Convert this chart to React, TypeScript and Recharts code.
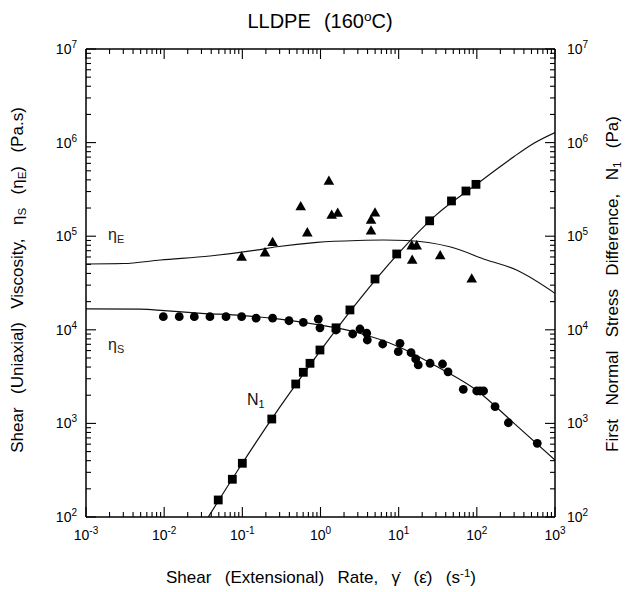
import React from 'react';
import { ComposedChart, XAxis, YAxis, Line, Scatter } from 'recharts';

const W = 637;
const H = 592;
const FONT = '"Liberation Sans", Arial, Helvetica, sans-serif';

// axis ranges and tick labels
const X_DOMAIN = [0.001, 1000];
const Y_DOMAIN = [100, 10000000];
const xMajorTicks = [0.001, 0.01, 0.1, 1, 10, 100, 1000];
const yMajorTicks = [100, 1000, 10000, 100000, 1000000, 10000000];
const minorMultipliers = [2, 3, 4, 5, 6, 7, 8, 9];

// eta_S (shear viscosity) measured points
const etaSPoints = [
  { x: 0.00975, y: 13800 }, { x: 0.0156, y: 13800 }, { x: 0.0243, y: 13800 },
  { x: 0.0385, y: 13800 }, { x: 0.0618, y: 13800 }, { x: 0.098, y: 13800 },
  { x: 0.15, y: 13300 }, { x: 0.244, y: 13300 }, { x: 0.395, y: 12500 },
  { x: 0.603, y: 12000 }, { x: 0.937, y: 13000 }, { x: 0.984, y: 10500 },
  { x: 1.58, y: 9950 }, { x: 2.58, y: 9020 }, { x: 3.2, y: 10200 },
  { x: 3.9, y: 9190 }, { x: 3.97, y: 7780 }, { x: 6.25, y: 7050 },
  { x: 10.4, y: 7170 }, { x: 9.89, y: 5840 }, { x: 14.4, y: 5690 },
  { x: 16.5, y: 4880 }, { x: 17.8, y: 4210 }, { x: 25.2, y: 4390 },
  { x: 36.4, y: 4310 }, { x: 42.8, y: 3560 }, { x: 67.1, y: 2310 },
  { x: 99.6, y: 2220 }, { x: 110, y: 2220 }, { x: 122, y: 2220 },
  { x: 171, y: 1510 }, { x: 253, y: 1016 }, { x: 593, y: 612 },
];

// eta_E (extensional viscosity) measured points
const etaEPoints = [
  { x: 0.098, y: 60000 }, { x: 0.195, y: 66600 }, { x: 0.244, y: 86000 },
  { x: 0.558, y: 207000 }, { x: 0.678, y: 109000 }, { x: 1.28, y: 389000 },
  { x: 1.39, y: 168000 }, { x: 1.66, y: 177000 }, { x: 4.43, y: 114000 },
  { x: 4.43, y: 149000 }, { x: 4.98, y: 178000 }, { x: 14.7, y: 79200 },
  { x: 17.0, y: 79200 }, { x: 14.9, y: 55700 }, { x: 34, y: 62000 },
  { x: 86, y: 35000 },
];

// N1 (first normal stress difference) measured points
const n1Points = [
  { x: 0.0492, y: 152 }, { x: 0.0745, y: 253 }, { x: 0.1, y: 375 },
  { x: 0.238, y: 1114 }, { x: 0.482, y: 2636 }, { x: 0.603, y: 3516 },
  { x: 0.734, y: 4385 }, { x: 0.984, y: 6085 }, { x: 1.58, y: 10500 },
  { x: 2.38, y: 16300 }, { x: 4.98, y: 34900 }, { x: 9.44, y: 64600 },
  { x: 24.9, y: 146000 }, { x: 47.4, y: 238000 }, { x: 72.6, y: 304000 },
  { x: 97.5, y: 358000 },
];

// model curves
const etaSLine = [
  { x: 0.001, y: 16700 }, { x: 0.005, y: 16600 }, { x: 0.01, y: 16000 },
  { x: 0.03, y: 15000 }, { x: 0.1, y: 14200 }, { x: 0.3, y: 13000 },
  { x: 1, y: 11200 }, { x: 3, y: 9300 }, { x: 10, y: 6600 },
  { x: 30, y: 4100 }, { x: 100, y: 2250 }, { x: 300, y: 1000 },
  { x: 1000, y: 406 },
];

const etaELine = [
  { x: 0.001, y: 50500 }, { x: 0.003, y: 51000 }, { x: 0.009, y: 55700 },
  { x: 0.0385, y: 61400 }, { x: 0.15, y: 71000 }, { x: 0.275, y: 77000 },
  { x: 0.9, y: 86000 }, { x: 3, y: 90000 }, { x: 6.4, y: 91000 },
  { x: 12.7, y: 90000 }, { x: 45, y: 77000 }, { x: 134, y: 55700 },
  { x: 323, y: 43500 }, { x: 1000, y: 24500 },
];

const n1Line = [
  { x: 0.0367, y: 100 }, { x: 0.1, y: 375 }, { x: 0.3, y: 1480 },
  { x: 1, y: 6000 }, { x: 3, y: 20000 }, { x: 10, y: 66000 },
  { x: 30, y: 168000 }, { x: 100, y: 360000 }, { x: 200, y: 555000 },
  { x: 300, y: 710000 }, { x: 500, y: 950000 }, { x: 1000, y: 1280000 },
];

const buildTicks = (majors: number[]) => {
  const out: number[] = [];
  majors.forEach((m, i) => {
    out.push(m);
    if (i < majors.length - 1) minorMultipliers.forEach((k) => out.push(m * k));
  });
  return out;
};
const xTicks = buildTicks(xMajorTicks);
const yTicks = buildTicks(yMajorTicks);

const isMajor = (v: number) => Math.abs(Math.log10(v) - Math.round(Math.log10(v))) < 1e-6;
const expOf = (v: number) => String(Math.round(Math.log10(v)));

const MAJOR = 10;
const MINOR = 5;
const TICK_STROKE = 1.1;

const Pow = ({ x, y, v, anchor }: any) => (
  <text x={x} y={y} textAnchor={anchor} fontFamily={FONT} fontSize={14} fill="#000">
    10
    <tspan dy={-6} fontSize={10}>{expOf(v)}</tspan>
  </text>
);

const BottomTick = (p: any) => {
  const v = p.payload.value;
  const mj = isMajor(v);
  return (
    <g>
      <line x1={p.x} x2={p.x} y1={p.y} y2={p.y - (mj ? MAJOR : MINOR)} stroke="#000" strokeWidth={TICK_STROKE} />
      {mj && <Pow x={p.x} y={p.y + 23} v={v} anchor="middle" />}
    </g>
  );
};
const TopTick = (p: any) => {
  const v = p.payload.value;
  const mj = isMajor(v);
  return <line x1={p.x} x2={p.x} y1={p.y} y2={p.y + (mj ? MAJOR : MINOR)} stroke="#000" strokeWidth={TICK_STROKE} />;
};
const LeftTick = (p: any) => {
  const v = p.payload.value;
  const mj = isMajor(v);
  return (
    <g>
      <line x1={p.x} x2={p.x + (mj ? MAJOR : MINOR)} y1={p.y} y2={p.y} stroke="#000" strokeWidth={TICK_STROKE} />
      {mj && <Pow x={p.x - 9} y={p.y + 5} v={v} anchor="end" />}
    </g>
  );
};
const RightTick = (p: any) => {
  const v = p.payload.value;
  const mj = isMajor(v);
  return (
    <g>
      <line x1={p.x} x2={p.x - (mj ? MAJOR : MINOR)} y1={p.y} y2={p.y} stroke="#000" strokeWidth={TICK_STROKE} />
      {mj && <Pow x={p.x + 12} y={p.y + 5} v={v} anchor="start" />}
    </g>
  );
};

const CircleShape = (p: any) => <circle cx={p.cx} cy={p.cy} r={4.4} fill="#000" />;
const SquareShape = (p: any) => <rect x={p.cx - 4.4} y={p.cy - 4.4} width={8.8} height={8.8} fill="#000" />;
const TriangleShape = (p: any) => (
  <path d={`M${p.cx},${p.cy - 5.6}L${p.cx + 5.3},${p.cy + 3.7}L${p.cx - 5.3},${p.cy + 3.7}Z`} fill="#000" />
);

const axisLine = { stroke: '#000', strokeWidth: 1.5 };

const abs = (o: any): React.CSSProperties => ({
  position: 'absolute',
  whiteSpace: 'pre',
  fontFamily: FONT,
  color: '#000',
  lineHeight: 1,
  ...o,
});
const subStyle: React.CSSProperties = { fontSize: '0.68em', verticalAlign: '-0.25em' };
const supStyle: React.CSSProperties = { fontSize: '0.68em', verticalAlign: '0.5em' };

export default function App() {
  return (
    <div style={{ position: 'absolute', left: 0, top: 0, width: W, height: H, background: '#fff' }}>
      <ComposedChart width={W} height={H} margin={{ top: 0, right: 0, bottom: 0, left: 0 }}>
        <XAxis xAxisId="b" dataKey="x" type="number" scale="log" domain={X_DOMAIN} allowDataOverflow
          ticks={xTicks} interval={0} tickSize={0} tickMargin={0} height={75} orientation="bottom"
          axisLine={axisLine} tickLine={false} tick={(p: any) => <BottomTick {...p} />} />
        <XAxis xAxisId="t" dataKey="x" type="number" scale="log" domain={X_DOMAIN} allowDataOverflow
          ticks={xTicks} interval={0} tickSize={0} tickMargin={0} height={49} orientation="top"
          axisLine={axisLine} tickLine={false} tick={(p: any) => <TopTick {...p} />} />
        <YAxis yAxisId="l" dataKey="y" type="number" scale="log" domain={Y_DOMAIN} allowDataOverflow
          ticks={yTicks} interval={0} tickSize={0} tickMargin={0} width={86} orientation="left"
          axisLine={axisLine} tickLine={false} tick={(p: any) => <LeftTick {...p} />} />
        <YAxis yAxisId="r" dataKey="y" type="number" scale="log" domain={Y_DOMAIN} allowDataOverflow
          ticks={yTicks} interval={0} tickSize={0} tickMargin={0} width={82} orientation="right"
          axisLine={axisLine} tickLine={false} tick={(p: any) => <RightTick {...p} />} />

        <Line xAxisId="b" yAxisId="l" data={etaELine} dataKey="y" type="monotone" stroke="#111"
          strokeWidth={1.1} dot={false} activeDot={false} isAnimationActive={false} />
        <Line xAxisId="b" yAxisId="l" data={etaSLine} dataKey="y" type="monotone" stroke="#111"
          strokeWidth={1.2} dot={false} activeDot={false} isAnimationActive={false} />
        <Line xAxisId="b" yAxisId="l" data={n1Line} dataKey="y" type="monotone" stroke="#111"
          strokeWidth={1.2} dot={false} activeDot={false} isAnimationActive={false} />

        <Scatter xAxisId="b" yAxisId="l" data={etaEPoints} dataKey="y" shape={TriangleShape} isAnimationActive={false} />
        <Scatter xAxisId="b" yAxisId="l" data={etaSPoints} dataKey="y" shape={CircleShape} isAnimationActive={false} />
        <Scatter xAxisId="b" yAxisId="l" data={n1Points} dataKey="y" shape={SquareShape} isAnimationActive={false} />
      </ComposedChart>

      <div style={abs({ left: 320, top: 10, fontSize: 20, wordSpacing: '1px', transform: 'translateX(-50%)' })}>
        LLDPE  (160<span style={supStyle}>o</span>C)
      </div>
      <div style={abs({ left: 321, top: 568, fontSize: 17, wordSpacing: '2px', transform: 'translateX(-50%)' })}>
        Shear  (Extensional)  Rate,  γ̇  (ε̇)  (s<span style={supStyle}>-1</span>)
      </div>
      <div style={abs({ left: 19, top: 280, fontSize: 17, wordSpacing: '2px', transform: 'translate(-50%, -50%) rotate(-90deg)' })}>
        Shear  (Uniaxial)  Viscosity,  η<span style={subStyle}>S</span>  (η<span style={subStyle}>E</span>)  (Pa.s)
      </div>
      <div style={abs({ left: 614, top: 284, fontSize: 17, wordSpacing: '2px', transform: 'translate(-50%, -50%) rotate(-90deg)' })}>
        First  Normal  Stress  Difference,  N<span style={subStyle}>1</span>  (Pa)
      </div>

      <div style={abs({ left: 108, top: 227, fontSize: 16, color: '#222' })}>
        η<span style={subStyle}>E</span>
      </div>
      <div style={abs({ left: 108, top: 337, fontSize: 16, color: '#222' })}>
        η<span style={subStyle}>S</span>
      </div>
      <div style={abs({ left: 247, top: 392, fontSize: 16, color: '#111' })}>
        N<span style={subStyle}>1</span>
      </div>
    </div>
  );
}
